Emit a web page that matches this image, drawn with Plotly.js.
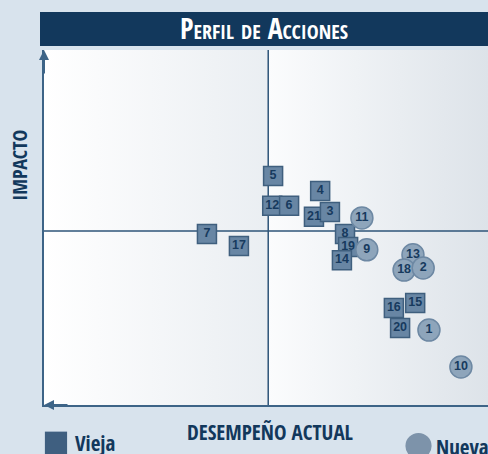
<!DOCTYPE html>
<html>
<head>
<meta charset="utf-8">
<script src="https://cdn.plot.ly/plotly-3.0.1.min.js"></script>
<style>
html,body{margin:0;padding:0;background:#d8e3ed;}
#chart{width:488px;height:454px;}
</style>
</head>
<body>
<div id="chart"></div>
<script>
// Vieja (old) actions - squares
const oldLabels = ['5','4','12','6','21','3','7','17','8','19','14','15','16','20'];
const oldX = [51.6, 62.2, 51.4, 55.2, 60.8, 64.4, 36.7, 43.9, 67.8, 68.5, 67.1, 83.6, 78.8, 80.2];
const oldY = [64.5, 60.3, 56.1, 56.1, 53.0, 54.4, 48.2, 44.8, 48.2, 44.5, 40.8, 28.7, 27.3, 21.7];
// Nueva (new) actions - circles
const newLabels = ['11','9','13','18','2','1','10'];
const newX = [71.6, 72.7, 83.1, 81.1, 85.4, 86.7, 93.9];
const newY = [52.7, 43.7, 42.3, 38.0, 38.6, 21.1, 10.7];
// quadrant dividers and axis range
const midX = 50.5;
const midY = 49;
const lo = 0, hi = 100;

const navy = '#12385c';
const lineCol = '#3d6487';
const divCol = '#2e5478';
const condensed = 'Open Sans Condensed, Roboto Condensed, DejaVu Sans Condensed, sans-serif';

function bgHalf(x0, x1, c0, c1) {
  return {
    type: 'scatter', mode: 'none', x: [x0, x1, x1, x0, x0], y: [lo, lo, hi, hi, lo],
    fill: 'toself', fillcolor: c0,
    fillgradient: {type: 'horizontal', colorscale: [[0, c0], [1, c1]]},
    hoverinfo: 'skip', showlegend: false
  };
}
function divider(xs, ys) {
  return {type: 'scatter', mode: 'lines', x: xs, y: ys,
          line: {color: divCol, width: 1.5}, hoverinfo: 'skip', showlegend: false};
}

const traces = [
  bgHalf(lo, midX, '#ffffff', '#eaeef2'),
  bgHalf(midX, hi, '#fbfcfd', '#dde3e9'),
  divider([midX, midX], [lo, hi]),
  divider([lo, hi], [midY, midY]),
  {
    type: 'scatter', mode: 'markers+text', name: 'Vieja',
    x: oldX, y: oldY, text: oldLabels, textposition: 'middle center',
    marker: {symbol: 'square', size: 19, color: '#6886a4', line: {color: '#3f5f7e', width: 1.5}},
    textfont: {family: 'Liberation Sans, Arial, sans-serif', size: 12.5, color: '#173a5e', weight: 'bold'},
    cliponaxis: false, hoverinfo: 'text'
  },
  {
    type: 'scatter', mode: 'markers+text', name: 'Nueva',
    x: newX, y: newY, text: newLabels, textposition: 'middle center',
    marker: {symbol: 'circle', size: 22, color: '#8ea5bb', line: {color: '#6d88a3', width: 1.5}},
    textfont: {family: 'Liberation Sans, Arial, sans-serif', size: 12.5, color: '#173a5e', weight: 'bold'},
    cliponaxis: false, hoverinfo: 'text'
  }
];

const layout = {
  width: 488, height: 454,
  margin: {l: 44, r: 0, t: 50, b: 49},
  paper_bgcolor: '#d8e3ed',
  plot_bgcolor: '#f3f5f8',
  showlegend: false,
  title: {
    text: 'Perfil de Acciones',
    x: 0.541, xref: 'container', xanchor: 'center',
    y: 0.935, yref: 'container', yanchor: 'middle',
    font: {family: condensed, size: 28, color: '#ffffff', weight: 'bold', variant: 'small-caps'}
  },
  xaxis: {range: [lo, hi], showgrid: false, zeroline: false, showticklabels: false, ticks: '',
          showline: true, linecolor: lineCol, linewidth: 2, mirror: false, fixedrange: true},
  yaxis: {range: [lo, hi], showgrid: false, zeroline: false, showticklabels: false, ticks: '',
          showline: true, linecolor: lineCol, linewidth: 2, mirror: false, fixedrange: true},
  shapes: [
    {type: 'rect', xref: 'paper', yref: 'paper', x0: -0.009, x1: 1.0, y0: 1.0113, y1: 1.107,
     fillcolor: navy, line: {width: 0}, layer: 'below'},
    // legend icons
    {type: 'rect', xref: 'paper', yref: 'paper', x0: 0.002, x1: 0.052, y0: -0.138, y1: -0.075,
     fillcolor: '#3f5f80', line: {width: 0}},
    {type: 'circle', xref: 'paper', yref: 'paper', x0: 0.814, x1: 0.873, y0: -0.152, y1: -0.079,
     fillcolor: '#7d93aa', line: {width: 0}}
  ],
  annotations: [
    {x: lo, y: hi, xref: 'x', yref: 'y', text: '', showarrow: true, ax: 0, ay: 25,
     arrowhead: 2, arrowsize: 1, arrowwidth: 2, arrowcolor: lineCol},
    {x: lo, y: lo, xref: 'x', yref: 'y', text: '', showarrow: true, ax: 25, ay: 0,
     arrowhead: 2, arrowsize: 1, arrowwidth: 2, arrowcolor: lineCol},
    {text: 'IMPACTO', xref: 'paper', yref: 'paper', x: -0.057, y: 0.676, textangle: -90,
     showarrow: false, xanchor: 'center', yanchor: 'middle',
     font: {family: condensed, size: 20, color: navy, weight: 'bold'}},
    {text: 'DESEMPEÑO ACTUAL', xref: 'paper', yref: 'paper', x: 0.509, y: -0.076,
     showarrow: false, xanchor: 'center', yanchor: 'middle',
     font: {family: condensed, size: 21, color: navy, weight: 'bold'}},
    {text: 'Vieja', xref: 'paper', yref: 'paper', x: 0.066, y: -0.106,
     showarrow: false, xanchor: 'left', yanchor: 'middle',
     font: {family: condensed, size: 21, color: navy, weight: 'bold'}},
    {text: 'Nueva', xref: 'paper', yref: 'paper', x: 0.878, y: -0.118,
     showarrow: false, xanchor: 'left', yanchor: 'middle',
     font: {family: condensed, size: 21, color: navy, weight: 'bold'}}
  ]
};

Plotly.newPlot('chart', traces, layout, {displayModeBar: false, staticPlot: true});
</script>
</body>
</html>
